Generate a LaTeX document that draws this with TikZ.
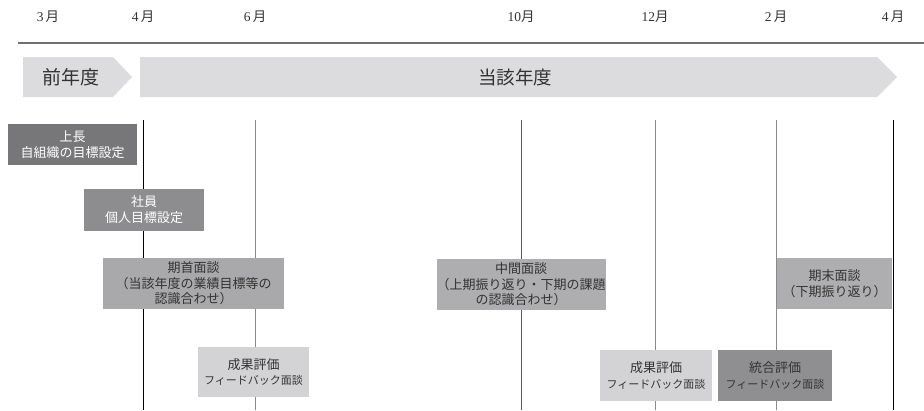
\documentclass[tikz,border=0pt]{standalone}
\usepackage{fontspec}
\setmainfont{Liberation Serif}
\newfontfamily\jp{Noto Sans CJK JP}
\definecolor{bandgray}{HTML}{DCDCDE}
\definecolor{rulegray}{HTML}{707070}
\definecolor{linegray}{HTML}{8A8A8A}
\definecolor{linedark}{HTML}{5A5A5A}
\definecolor{txt}{HTML}{333333}
\definecolor{fA}{HTML}{77777A}
\definecolor{fB}{HTML}{8D8D90}
\definecolor{fC}{HTML}{A9A9AB}
\definecolor{fD}{HTML}{D3D3D5}
\definecolor{fE}{HTML}{8F8F91}
\definecolor{fF}{HTML}{AEAEB0}
\tikzset{
  month/.style={font=\fontsize{13.5}{15}\selectfont, text=txt, anchor=center, inner sep=0},
  box/.style={inner sep=0, align=center, font=\jp\fontsize{13}{15.5}\selectfont, text=txt},
  wbox/.style={box, text=white, font=\jp\fontsize{13}{16}\selectfont},
  band/.style={fill=bandgray, draw=none},
  vl/.style={line width=0.9pt},
}
\begin{document}
\begin{tikzpicture}[x=1pt,y=-1pt]
\useasboundingbox (0,0) rectangle (924,410);
\fill[white] (0,0) rectangle (924,410);
% month labels
\node[month] (m3) at (48,17) {3\,{\jp 月}};
\node[month] (m4) at (143,17) {4\,{\jp 月}};
\node[month] (m6) at (255,17) {6\,{\jp 月}};
\node[month] (m10) at (521,17) {10{\jp 月}};
\node[month] (m12) at (655,17) {12{\jp 月}};
\node[month] (m2) at (776,17) {2\,{\jp 月}};
\node[month] (m4b) at (893,17) {4\,{\jp 月}};
% rule
\draw[rulegray, line width=1.8pt] (18,43) -- (924,43);
% bands
\fill[band] (23,57) -- (113,57) -- (132,77) -- (113,97) -- (23,97) -- cycle;
\fill[band] (140,57) -- (877,57) -- (897,77) -- (877,97) -- (140,97) -- cycle;
\node[box, font=\jp\fontsize{19}{21}\selectfont] (prev) at (71,77) {前年度};
\node[box, font=\jp\fontsize{18.5}{21}\selectfont] (cur) at (515,77) {当該年度};
% vertical lines
\draw[vl, black] (143,120) -- (143,410);
\draw[vl, linegray] (255,120) -- (255,410);
\draw[vl, linedark] (521,120) -- (521,410);
\draw[vl, linegray] (655,120) -- (655,410);
\draw[vl, linegray] (776,120) -- (776,410);
\draw[vl, black] (893,120) -- (893,410);
% boxes
\node[wbox, fill=fA, minimum width=129pt, minimum height=41pt] (b1) at (72.5,144.5) {上長\\自組織の目標設定};
\node[wbox, fill=fB, minimum width=120pt, minimum height=42pt] (b2) at (144,210) {社員\\個人目標設定};
\node[box, fill=fC, minimum width=181pt, minimum height=51pt] (b3) at (193.5,283.5) {期首面談\\（当該年度の業績目標等の\\認識合わせ）};
\node[box, fill=fD, minimum width=111pt, minimum height=50pt] (b4) at (253.5,372) {成果評価\\{\fontsize{11}{16}\selectfont フィードバック面談}};
\node[box, fill=fF, minimum width=168pt, minimum height=51pt] (b5) at (521,284.5) {中間面談\\（上期振り返り・下期の課題\\の認識合わせ）};
\node[box, fill=fF, minimum width=115pt, minimum height=51pt] (b6) at (834.5,283.5) {期末面談\\（下期振り返り）};
\node[box, fill=fD, minimum width=112pt, minimum height=51pt] (b7) at (656,375.5) {成果評価\\{\fontsize{11}{16}\selectfont フィードバック面談}};
\node[box, fill=fE, minimum width=114pt, minimum height=51pt] (b8) at (775,375.5) {統合評価\\{\fontsize{11}{16}\selectfont フィードバック面談}};
\end{tikzpicture}
\end{document}
